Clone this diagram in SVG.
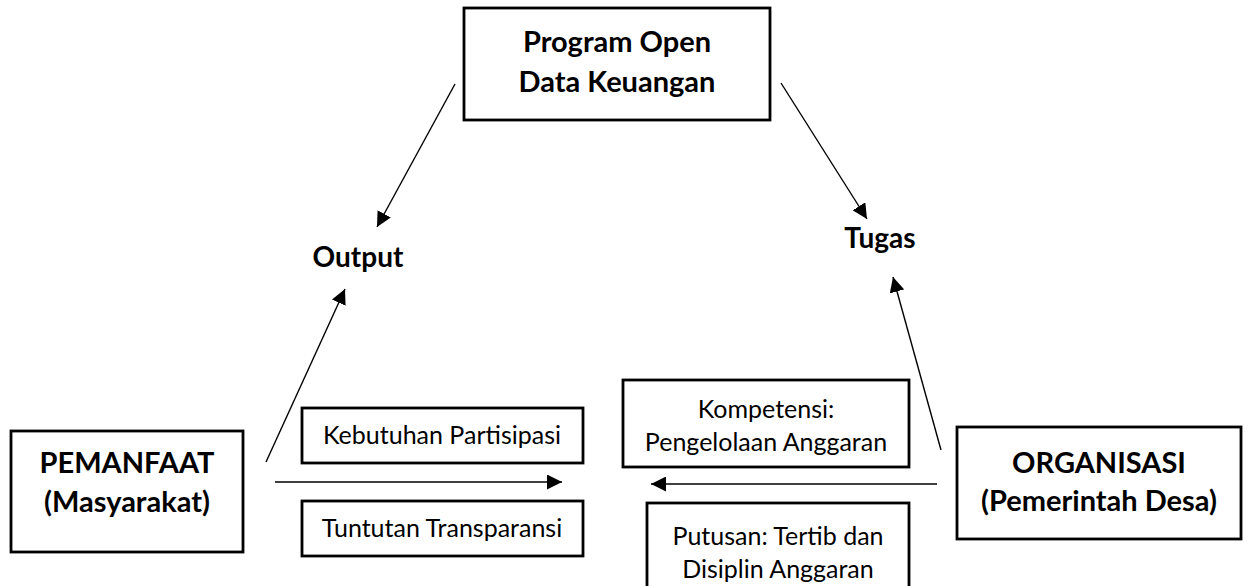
<svg xmlns="http://www.w3.org/2000/svg" width="1253" height="586" viewBox="0 0 1253 586">
  <defs>
    <marker id="arrow" markerUnits="userSpaceOnUse" markerWidth="16" markerHeight="15" refX="15" refY="7.5" orient="auto">
      <path d="M0,0 L15,7.5 L0,15 z" fill="#000"/>
    </marker>
    <style>
      .box { fill: #fff; stroke: #000; stroke-width: 2.8; }
      .bold { font-family: Lato, "Liberation Sans", sans-serif; font-weight: bold; font-size: 29px; fill: #000; text-anchor: middle; }
      .label { font-size: 28px; }
      .reg { font-family: Lato, "Liberation Sans", sans-serif; font-size: 25px; fill: #000; text-anchor: middle; }
      .conn { stroke: #000; stroke-width: 1.4; fill: none; marker-end: url(#arrow); }
    </style>
  </defs>
  <rect width="1253" height="586" fill="#fff"/>

  <!-- central programme -->
  <g id="program">
    <rect class="box" x="464" y="8" width="306" height="112"/>
    <text class="bold" x="617" y="52">Program Open</text>
    <text class="bold" x="617" y="92">Data Keuangan</text>
  </g>

  <g id="output">
    <text class="bold label" x="358" y="267">Output</text>
  </g>

  <g id="tugas">
    <text class="bold label" x="880" y="248">Tugas</text>
  </g>

  <g id="pemanfaat">
    <rect class="box" x="11" y="431" width="232" height="121"/>
    <text class="bold" x="127" y="473">PEMANFAAT</text>
    <text class="bold" x="127" y="512">(Masyarakat)</text>
  </g>

  <g id="organisasi">
    <rect class="box" x="957" y="427" width="284" height="112"/>
    <text class="bold" x="1099" y="473">ORGANISASI</text>
    <text class="bold" x="1099" y="511">(Pemerintah Desa)</text>
  </g>

  <g id="kebutuhan">
    <rect class="box" x="302" y="408" width="281" height="55"/>
    <text class="reg" x="442" y="444">Kebutuhan Partisipasi</text>
  </g>

  <g id="tuntutan">
    <rect class="box" x="302" y="501" width="281" height="55"/>
    <text class="reg" x="442" y="537">Tuntutan Transparansi</text>
  </g>

  <g id="kompetensi">
    <rect class="box" x="623" y="380" width="286" height="87"/>
    <text class="reg" x="766" y="418">Kompetensi:</text>
    <text class="reg" x="766" y="451">Pengelolaan Anggaran</text>
  </g>

  <g id="putusan">
    <rect class="box" x="647" y="503" width="262" height="100"/>
    <text class="reg" x="778" y="545">Putusan: Tertib dan</text>
    <text class="reg" x="778" y="578">Disiplin Anggaran</text>
  </g>

  <!-- connectors -->
  <g id="connectors">
    <line class="conn" x1="455" y1="84" x2="377" y2="227"/>
    <line class="conn" x1="781" y1="83" x2="867" y2="219"/>
    <line class="conn" x1="266" y1="462" x2="345" y2="289"/>
    <line class="conn" x1="941" y1="450" x2="893" y2="277"/>
    <line class="conn" x1="275" y1="482" x2="562" y2="482"/>
    <line class="conn" x1="937" y1="484" x2="651" y2="484"/>
  </g>
</svg>
